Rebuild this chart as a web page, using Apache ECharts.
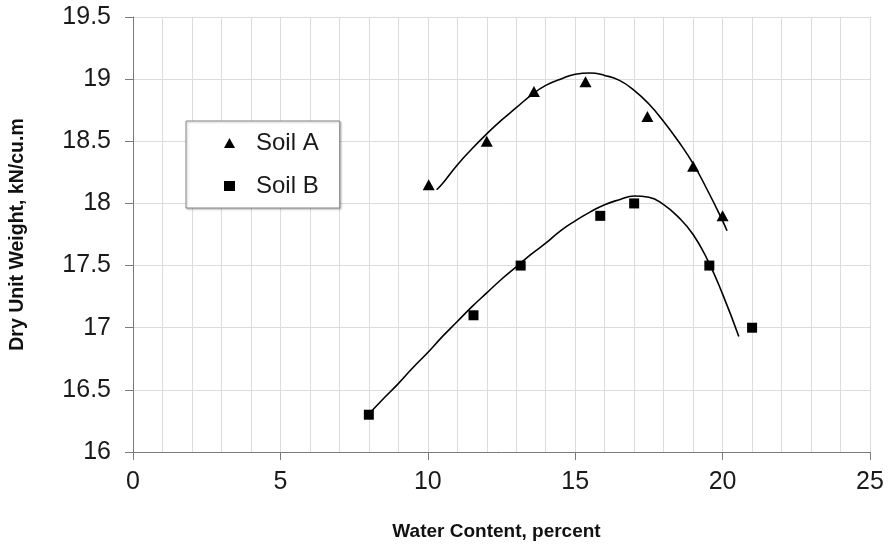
<!DOCTYPE html>
<html>
<head>
<meta charset="utf-8">
<script src="https://cdn.jsdelivr.net/npm/echarts@6/dist/echarts.min.js"></script>
<style>
  html, body { margin: 0; padding: 0; background: #fff; }
  #chart { width: 888px; height: 546px; }
</style>
</head>
<body>
<div id="chart"></div>
<script>
// Compaction test results: water content (%) vs dry unit weight (kN/cu.m)
const seriesNames = ['Soil A', 'Soil B'];

const soilA = [
  [10.03, 18.15], [12.0, 18.5], [13.6, 18.9], [15.35, 18.98],
  [17.45, 18.7], [19.0, 18.3], [20.0, 17.9]
];
const soilB = [
  [8.0, 16.3], [11.55, 17.1], [13.15, 17.5], [15.85, 17.9],
  [17.0, 18.0], [19.55, 17.5], [21.0, 17.0]
];

// Fitted compaction curves
const curveA = [
  [10.3, 18.11], [10.5, 18.16], [11, 18.31], [11.5, 18.44], [12, 18.56],
  [12.5, 18.67], [13, 18.77], [13.5, 18.87], [14, 18.95], [14.5, 19.0],
  [15, 19.04], [15.5, 19.05], [16, 19.03], [16.5, 18.99], [17, 18.91],
  [17.5, 18.8], [18, 18.66], [18.5, 18.5], [19, 18.32], [19.5, 18.1],
  [20, 17.86], [20.15, 17.78]
];
const curveB = [
  [7.9, 16.28], [8.5, 16.43], [9, 16.55], [9.5, 16.68], [10, 16.8],
  [10.5, 16.93], [11, 17.05], [11.5, 17.17], [12, 17.28], [12.5, 17.39],
  [13, 17.49], [13.5, 17.59], [14, 17.68], [14.5, 17.78], [15, 17.86],
  [15.5, 17.93], [16, 17.99], [16.5, 18.03], [17, 18.06], [17.5, 18.05],
  [18, 17.99], [18.5, 17.89], [19, 17.75], [19.5, 17.54], [20, 17.27],
  [20.55, 16.93]
];

const xTicks = [0, 5, 10, 15, 20, 25];
const yTicks = [16, 16.5, 17, 17.5, 18, 18.5, 19, 19.5];

const FONT = 'Liberation Sans, Arial, sans-serif';
const AXIS_COLOR = '#7a7a7a';
const GRID_COLOR = '#dcdcdc';

const chart = echarts.init(document.getElementById('chart'), null, { renderer: 'canvas' });

chart.setOption({
  animation: false,
  backgroundColor: '#ffffff',
  grid: { left: 132, right: 18, top: 17, bottom: 93, containLabel: false },
  legend: {
    data: [
      { name: seriesNames[0], icon: 'triangle' },
      { name: seriesNames[1], icon: 'rect' }
    ],
    orient: 'vertical',
    left: 186,
    top: 121,
    itemWidth: 11,
    itemHeight: 10,
    itemGap: 19,
    padding: [10, 21, 10, 38],
    backgroundColor: '#ffffff',
    borderColor: '#8a8a8a',
    borderWidth: 1,
    shadowColor: 'rgba(0,0,0,0.25)',
    shadowBlur: 2,
    shadowOffsetX: 1,
    shadowOffsetY: 1,
    itemStyle: { opacity: 1, color: '#000' },
    textStyle: {
      fontFamily: FONT,
      fontSize: 24,
      color: '#1a1a1a',
      lineHeight: 24,
      padding: [0, 0, 0, 16]
    }
  },
  xAxis: {
    type: 'value',
    min: xTicks[0],
    max: xTicks[xTicks.length - 1],
    interval: 5,
    name: 'Water Content, percent',
    nameLocation: 'middle',
    nameGap: 70,
    nameTextStyle: { fontFamily: FONT, fontSize: 19, fontWeight: 'bold', color: '#111', padding: [0, 10, 0, 0] },
    axisLine: { show: true, onZero: false, lineStyle: { color: AXIS_COLOR, width: 1 } },
    axisTick: { show: true, length: 8, lineStyle: { color: AXIS_COLOR } },
    axisLabel: {
      fontFamily: FONT, fontSize: 25, color: '#1a1a1a', margin: 18,
      formatter: v => (xTicks.includes(v) ? String(v) : '')
    },
    splitLine: { show: true, lineStyle: { color: GRID_COLOR, width: 1 } },
    minorTick: { show: false, splitNumber: 5 },
    minorSplitLine: { show: true, lineStyle: { color: GRID_COLOR, width: 1 } }
  },
  yAxis: {
    type: 'value',
    min: yTicks[0],
    max: yTicks[yTicks.length - 1],
    interval: 0.5,
    name: 'Dry Unit Weight, kN/cu.m',
    nameLocation: 'middle',
    nameGap: 105,
    nameTextStyle: { fontFamily: FONT, fontSize: 19.5, fontWeight: 'bold', color: '#111' },
    axisLine: { show: true, onZero: false, lineStyle: { color: AXIS_COLOR, width: 1 } },
    axisTick: { show: true, length: 8, lineStyle: { color: AXIS_COLOR } },
    axisLabel: {
      fontFamily: FONT, fontSize: 25, color: '#1a1a1a', margin: 22,
      formatter: v => String(v)
    },
    splitLine: { show: true, lineStyle: { color: GRID_COLOR, width: 1 } }
  },
  series: [
    {
      name: 'Soil A fit',
      type: 'line',
      data: curveA,
      smooth: 0.5,
      showSymbol: false,
      symbol: 'none',
      lineStyle: { color: '#000', width: 1.6 },
      z: 2
    },
    {
      name: 'Soil B fit',
      type: 'line',
      data: curveB,
      smooth: 0.5,
      showSymbol: false,
      symbol: 'none',
      lineStyle: { color: '#000', width: 1.6 },
      z: 2
    },
    {
      name: seriesNames[0],
      type: 'scatter',
      data: soilA,
      symbol: 'triangle',
      symbolSize: [12, 11],
      itemStyle: { color: '#000', opacity: 1 },
      z: 3
    },
    {
      name: seriesNames[1],
      type: 'scatter',
      data: soilB,
      symbol: 'rect',
      symbolSize: 10,
      itemStyle: { color: '#000', opacity: 1 },
      z: 3
    }
  ]
});
</script>
</body>
</html>
